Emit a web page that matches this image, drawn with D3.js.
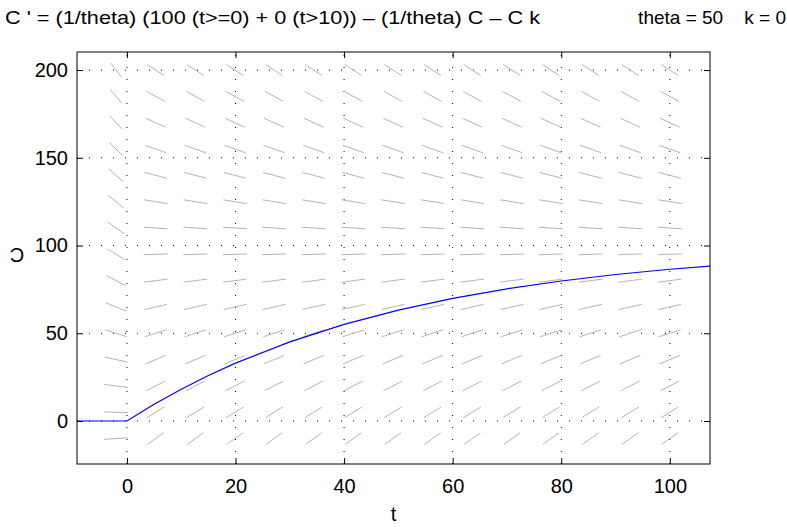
<!DOCTYPE html>
<html>
<head>
<meta charset="utf-8">
<script src="https://cdn.jsdelivr.net/npm/d3@7"></script>
<style>
  body { margin: 0; background: #fff; }
  text { font-family: "Liberation Sans", Arial, sans-serif; fill: #000; }
</style>
</head>
<body>
<svg></svg>
<script>
const width = 787
const height = 527

// direction field grid (t columns, C rows)
const tCols = [-2, 5.3, 12.6, 19.9, 27.1, 34.4, 41.7, 49, 56.3, 63.6, 70.9, 78.1, 85.4, 92.7, 100]
const cRows = [-10, 5, 20, 35, 50, 65, 80, 95, 110, 125, 140, 155, 170, 185, 200]
// slope dC/dt on each row, before and after the input switches on at t = 0
const slopeBefore = [0.2, -0.1, -0.4, -0.7, -1, -1.3, -1.6, -1.9, -2.2, -2.5, -2.8, -3.1, -3.4, -3.7, -4]
const slopeAfter = [2.2, 1.9, 1.6, 1.3, 1, 0.7, 0.4, 0.1, -0.2, -0.5, -0.8, -1.1, -1.4, -1.7, -2]

// solution curve
const solT = [-9.2, 0, 5, 10, 15, 20, 30, 40, 50, 60, 70, 80, 90, 100, 107.4]
const solC = [0, 0, 9.5, 18.1, 25.9, 33, 45.1, 55.1, 63.2, 69.9, 75.3, 79.8, 83.5, 86.5, 88.3]

const xTicks = [0, 20, 40, 60, 80, 100]
const yTicks = [0, 50, 100, 150, 200]

const title = "C ' = (1/theta) (100 (t>=0) + 0 (t>10)) \u2013 (1/theta) C \u2013 C k"

const margin = { top: 52, right: 77, bottom: 63, left: 77 }
const innerWidth = width - margin.left - margin.right
const innerHeight = height - margin.top - margin.bottom

const svg = d3.select("svg")
    .attr("width", width)
    .attr("height", height)

const xScale = d3.scaleLinear().domain([-9.2, 107.4]).range([0, innerWidth])
const yScale = d3.scaleLinear().domain([-24.5, 210.3]).range([innerHeight, 0])

const g = svg.append("g")
    .attr("transform", `translate(${margin.left}, ${margin.top})`)

svg.append("defs").append("clipPath").attr("id", "clip")
    .append("rect").attr("width", innerWidth).attr("height", innerHeight)

// dotted grid
g.append("g").selectAll("line").data(xTicks).enter().append("line")
    .attr("x1", d => xScale(d)).attr("x2", d => xScale(d))
    .attr("y1", innerHeight).attr("y2", 0)
    .attr("stroke", "#000").attr("stroke-dasharray", "1 11")
g.append("g").selectAll("line").data(yTicks).enter().append("line")
    .attr("y1", d => yScale(d)).attr("y2", d => yScale(d))
    .attr("x1", 0).attr("x2", innerWidth)
    .attr("stroke", "#000").attr("stroke-dasharray", "1 11")

// direction field: fixed length in normalised axes units
const L = 0.038
const xr = xScale.domain()[1] - xScale.domain()[0]
const yr = yScale.domain()[1] - yScale.domain()[0]
const field = []
tCols.forEach(t => cRows.forEach((c, i) => {
    field.push({ t, c, s: t < 0 ? slopeBefore[i] : slopeAfter[i] })
}))
const seg = d => {
    const nx = 1 / xr, ny = d.s / yr
    const n = Math.hypot(nx, ny)
    return [nx / n * L * innerWidth / 2, -ny / n * L * innerHeight / 2]
}
g.append("g").selectAll("line").data(field).enter().append("line")
    .attr("x1", d => xScale(d.t) - seg(d)[0])
    .attr("x2", d => xScale(d.t) + seg(d)[0])
    .attr("y1", d => yScale(d.c) - seg(d)[1])
    .attr("y2", d => yScale(d.c) + seg(d)[1])
    .attr("stroke", "#b4b4b4")
    .attr("stroke-width", 1)

// solution
const line = d3.line().x(d => xScale(d[0])).y(d => yScale(d[1]))
g.append("path")
    .datum(solT.map((t, i) => [t, solC[i]]))
    .attr("clip-path", "url(#clip)")
    .attr("d", line)
    .attr("fill", "none")
    .attr("stroke", "#0000ff")
    .attr("stroke-width", 1.2)

// axes, ticks inside on all four sides
const fontSize = "20px"
const styleAxis = sel => {
    sel.select(".domain").remove()
    sel.selectAll(".tick line").attr("stroke", "#000")
    sel.selectAll("text").attr("font-size", fontSize).attr("font-family", null)
}
const noLabels = sel => {
    styleAxis(sel)
    sel.selectAll("text").remove()
}
g.append("g").attr("transform", `translate(0, ${innerHeight})`)
    .call(d3.axisBottom(xScale).tickValues(xTicks).tickSize(-6).tickPadding(15))
    .call(styleAxis)
g.append("g")
    .call(d3.axisTop(xScale).tickValues(xTicks).tickSize(-6))
    .call(noLabels)
g.append("g")
    .call(d3.axisLeft(yScale).tickValues(yTicks).tickSize(-6).tickPadding(9))
    .call(styleAxis)
g.append("g").attr("transform", `translate(${innerWidth}, 0)`)
    .call(d3.axisRight(yScale).tickValues(yTicks).tickSize(-6))
    .call(noLabels)

g.append("rect")
    .attr("width", innerWidth).attr("height", innerHeight)
    .attr("fill", "none").attr("stroke", "#000").attr("stroke-width", 1)

// labels
g.append("text")
    .attr("x", innerWidth / 2).attr("y", innerHeight + 57)
    .attr("text-anchor", "middle").attr("font-size", fontSize)
    .text("t")
svg.append("text")
    .attr("transform", "translate(17, 255) rotate(180)")
    .attr("text-anchor", "middle").attr("dy", "0.35em")
    .attr("font-size", fontSize)
    .text("C")

svg.append("text")
    .attr("x", 5).attr("y", 24)
    .attr("font-size", "19px")
    .attr("textLength", 535)
    .attr("lengthAdjust", "spacingAndGlyphs")
    .text(title)
svg.append("text")
    .attr("x", 786).attr("y", 24)
    .attr("text-anchor", "end")
    .attr("font-size", "19px")
    .attr("xml:space", "preserve")
    .style("white-space", "pre")
    .text("theta = 50    k = 0")
</script>
</body>
</html>
